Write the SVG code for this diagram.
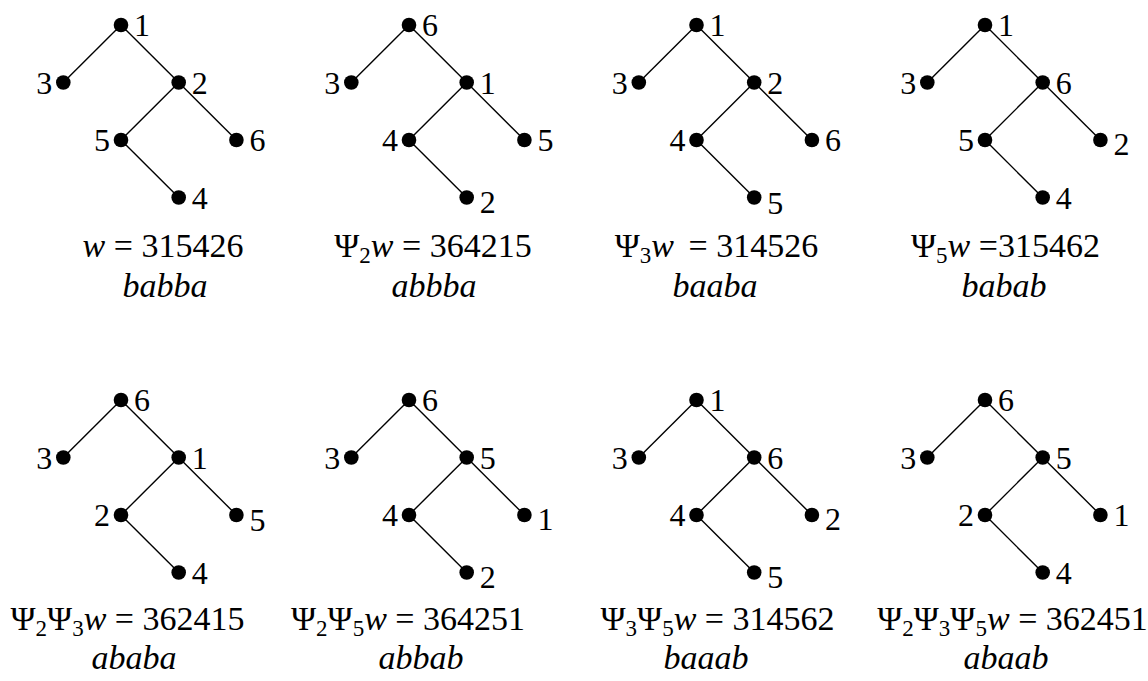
<svg xmlns="http://www.w3.org/2000/svg" width="1148" height="681" viewBox="0 0 1148 681">
<style>
.bg{fill:#fff}
.n circle{fill:#000}
.l{font-family:"Liberation Serif","Times New Roman",serif;font-size:32px;fill:#000}
.f{font-family:"Liberation Serif","Times New Roman",serif;font-size:34px;fill:#000}
.i{font-style:italic}
.s{font-size:23px}
</style>
<defs>
<g id="edges" stroke="#000" stroke-width="1.4" fill="none">
<line x1="0" y1="0" x2="-57.7" y2="57.5"/>
<line x1="0" y1="0" x2="57.7" y2="57.5"/>
<line x1="57.7" y1="57.5" x2="0" y2="115"/>
<line x1="57.7" y1="57.5" x2="115.4" y2="115"/>
<line x1="0" y1="115" x2="57.7" y2="172.5"/>
</g>
</defs>
<rect class="bg" x="0" y="0" width="1148" height="681"/>

<!-- Tree 1 -->
<g id="tree1" transform="translate(121,25)">
<g id="tree1-connectors" stroke="#000" stroke-width="1.4"><use href="#edges"/></g>
<g id="t1-n1" class="n"><circle cx="0" cy="0" r="7.3"/><text class="l" x="13" y="11">1</text></g>
<g id="t1-n3" class="n"><circle cx="-57.7" cy="57.5" r="7.3"/><text class="l" x="-68.7" y="68.5" text-anchor="end">3</text></g>
<g id="t1-n2" class="n"><circle cx="57.7" cy="57.5" r="7.3"/><text class="l" x="70.7" y="68.5">2</text></g>
<g id="t1-n5" class="n"><circle cx="0" cy="115" r="7.3"/><text class="l" x="-11" y="126" text-anchor="end">5</text></g>
<g id="t1-n6" class="n"><circle cx="115.4" cy="115" r="7.3"/><text class="l" x="128.4" y="126">6</text></g>
<g id="t1-n4" class="n"><circle cx="57.7" cy="172.5" r="7.3"/><text class="l" x="70.7" y="183.5">4</text></g>
</g>

<!-- Tree 2 -->
<g id="tree2" transform="translate(409,25)">
<g id="tree2-connectors" stroke="#000" stroke-width="1.4"><use href="#edges"/></g>
<g id="t2-n6" class="n"><circle cx="0" cy="0" r="7.3"/><text class="l" x="13" y="11">6</text></g>
<g id="t2-n3" class="n"><circle cx="-57.7" cy="57.5" r="7.3"/><text class="l" x="-68.7" y="68.5" text-anchor="end">3</text></g>
<g id="t2-n1" class="n"><circle cx="57.7" cy="57.5" r="7.3"/><text class="l" x="70.7" y="68.5">1</text></g>
<g id="t2-n4" class="n"><circle cx="0" cy="115" r="7.3"/><text class="l" x="-11" y="126" text-anchor="end">4</text></g>
<g id="t2-n5" class="n"><circle cx="115.4" cy="115" r="7.3"/><text class="l" x="128.4" y="126">5</text></g>
<g id="t2-n2" class="n"><circle cx="57.7" cy="172.5" r="7.3"/><text class="l" x="70.7" y="187.5">2</text></g>
</g>

<!-- Tree 3 -->
<g id="tree3" transform="translate(696.5,25)">
<g id="tree3-connectors" stroke="#000" stroke-width="1.4"><use href="#edges"/></g>
<g id="t3-n1" class="n"><circle cx="0" cy="0" r="7.3"/><text class="l" x="13" y="11">1</text></g>
<g id="t3-n3" class="n"><circle cx="-57.7" cy="57.5" r="7.3"/><text class="l" x="-68.7" y="68.5" text-anchor="end">3</text></g>
<g id="t3-n2" class="n"><circle cx="57.7" cy="57.5" r="7.3"/><text class="l" x="70.7" y="68.5">2</text></g>
<g id="t3-n4" class="n"><circle cx="0" cy="115" r="7.3"/><text class="l" x="-11" y="126" text-anchor="end">4</text></g>
<g id="t3-n6" class="n"><circle cx="115.4" cy="115" r="7.3"/><text class="l" x="128.4" y="126">6</text></g>
<g id="t3-n5" class="n"><circle cx="57.7" cy="172.5" r="7.3"/><text class="l" x="70.7" y="188.5">5</text></g>
</g>

<!-- Tree 4 -->
<g id="tree4" transform="translate(985,25)">
<g id="tree4-connectors" stroke="#000" stroke-width="1.4"><use href="#edges"/></g>
<g id="t4-n1" class="n"><circle cx="0" cy="0" r="7.3"/><text class="l" x="13" y="11">1</text></g>
<g id="t4-n3" class="n"><circle cx="-57.7" cy="57.5" r="7.3"/><text class="l" x="-68.7" y="68.5" text-anchor="end">3</text></g>
<g id="t4-n6" class="n"><circle cx="57.7" cy="57.5" r="7.3"/><text class="l" x="70.7" y="68.5">6</text></g>
<g id="t4-n5" class="n"><circle cx="0" cy="115" r="7.3"/><text class="l" x="-11" y="126" text-anchor="end">5</text></g>
<g id="t4-n2" class="n"><circle cx="115.4" cy="115" r="7.3"/><text class="l" x="128.4" y="130">2</text></g>
<g id="t4-n4" class="n"><circle cx="57.7" cy="172.5" r="7.3"/><text class="l" x="70.7" y="183.5">4</text></g>
</g>

<!-- Tree 5 -->
<g id="tree5" transform="translate(121,400)">
<g id="tree5-connectors" stroke="#000" stroke-width="1.4"><use href="#edges"/></g>
<g id="t5-n6" class="n"><circle cx="0" cy="0" r="7.3"/><text class="l" x="13" y="11">6</text></g>
<g id="t5-n3" class="n"><circle cx="-57.7" cy="57.5" r="7.3"/><text class="l" x="-68.7" y="68.5" text-anchor="end">3</text></g>
<g id="t5-n1" class="n"><circle cx="57.7" cy="57.5" r="7.3"/><text class="l" x="70.7" y="68.5">1</text></g>
<g id="t5-n2" class="n"><circle cx="0" cy="115" r="7.3"/><text class="l" x="-11" y="126" text-anchor="end">2</text></g>
<g id="t5-n5" class="n"><circle cx="115.4" cy="115" r="7.3"/><text class="l" x="128.4" y="130.5">5</text></g>
<g id="t5-n4" class="n"><circle cx="57.7" cy="172.5" r="7.3"/><text class="l" x="70.7" y="183.5">4</text></g>
</g>

<!-- Tree 6 -->
<g id="tree6" transform="translate(409,400)">
<g id="tree6-connectors" stroke="#000" stroke-width="1.4"><use href="#edges"/></g>
<g id="t6-n6" class="n"><circle cx="0" cy="0" r="7.3"/><text class="l" x="13" y="11">6</text></g>
<g id="t6-n3" class="n"><circle cx="-57.7" cy="57.5" r="7.3"/><text class="l" x="-68.7" y="68.5" text-anchor="end">3</text></g>
<g id="t6-n5" class="n"><circle cx="57.7" cy="57.5" r="7.3"/><text class="l" x="70.7" y="68.5">5</text></g>
<g id="t6-n4" class="n"><circle cx="0" cy="115" r="7.3"/><text class="l" x="-11" y="126" text-anchor="end">4</text></g>
<g id="t6-n1" class="n"><circle cx="115.4" cy="115" r="7.3"/><text class="l" x="128.4" y="130">1</text></g>
<g id="t6-n2" class="n"><circle cx="57.7" cy="172.5" r="7.3"/><text class="l" x="70.7" y="187.5">2</text></g>
</g>

<!-- Tree 7 -->
<g id="tree7" transform="translate(696.5,400)">
<g id="tree7-connectors" stroke="#000" stroke-width="1.4"><use href="#edges"/></g>
<g id="t7-n1" class="n"><circle cx="0" cy="0" r="7.3"/><text class="l" x="13" y="11">1</text></g>
<g id="t7-n3" class="n"><circle cx="-57.7" cy="57.5" r="7.3"/><text class="l" x="-68.7" y="68.5" text-anchor="end">3</text></g>
<g id="t7-n6" class="n"><circle cx="57.7" cy="57.5" r="7.3"/><text class="l" x="70.7" y="68.5">6</text></g>
<g id="t7-n4" class="n"><circle cx="0" cy="115" r="7.3"/><text class="l" x="-11" y="126" text-anchor="end">4</text></g>
<g id="t7-n2" class="n"><circle cx="115.4" cy="115" r="7.3"/><text class="l" x="128.4" y="129.5">2</text></g>
<g id="t7-n5" class="n"><circle cx="57.7" cy="172.5" r="7.3"/><text class="l" x="70.7" y="187.5">5</text></g>
</g>

<!-- Tree 8 -->
<g id="tree8" transform="translate(985,400)">
<g id="tree8-connectors" stroke="#000" stroke-width="1.4"><use href="#edges"/></g>
<g id="t8-n6" class="n"><circle cx="0" cy="0" r="7.3"/><text class="l" x="13" y="11">6</text></g>
<g id="t8-n3" class="n"><circle cx="-57.7" cy="57.5" r="7.3"/><text class="l" x="-68.7" y="68.5" text-anchor="end">3</text></g>
<g id="t8-n5" class="n"><circle cx="57.7" cy="57.5" r="7.3"/><text class="l" x="70.7" y="68.5">5</text></g>
<g id="t8-n2" class="n"><circle cx="0" cy="115" r="7.3"/><text class="l" x="-11" y="126" text-anchor="end">2</text></g>
<g id="t8-n1" class="n"><circle cx="115.4" cy="115" r="7.3"/><text class="l" x="128.4" y="126">1</text></g>
<g id="t8-n4" class="n"><circle cx="57.7" cy="172.5" r="7.3"/><text class="l" x="70.7" y="183.5">4</text></g>
</g>

<!-- Captions -->
<g id="captions">
<text class="f" x="163" y="257" text-anchor="middle"><tspan class="i">w</tspan> = 315426</text>
<text class="f i" x="165" y="297" text-anchor="middle">babba</text>

<text class="f" x="433" y="257" text-anchor="middle">Ψ<tspan class="s" dy="6">2</tspan><tspan class="i" dy="-6">w</tspan> = 364215</text>
<text class="f i" x="434" y="297" text-anchor="middle">abbba</text>

<text class="f" x="716.5" y="257" text-anchor="middle">Ψ<tspan class="s" dy="6">3</tspan><tspan class="i" dy="-6">w</tspan><tspan dx="6"> = 314526</tspan></text>
<text class="f i" x="715" y="297" text-anchor="middle">baaba</text>

<text class="f" x="1005.5" y="257" text-anchor="middle">Ψ<tspan class="s" dy="6">5</tspan><tspan class="i" dy="-6">w</tspan> =315462</text>
<text class="f i" x="1004" y="297" text-anchor="middle">babab</text>

<text class="f" x="127.5" y="630" text-anchor="middle">Ψ<tspan class="s" dy="6">2</tspan><tspan dy="-6">Ψ</tspan><tspan class="s" dy="6">3</tspan><tspan class="i" dy="-6">w</tspan> = 362415</text>
<text class="f i" x="134" y="669" text-anchor="middle">ababa</text>

<text class="f" x="408" y="630" text-anchor="middle">Ψ<tspan class="s" dy="6">2</tspan><tspan dy="-6">Ψ</tspan><tspan class="s" dy="6">5</tspan><tspan class="i" dy="-6">w</tspan> = 364251</text>
<text class="f i" x="421" y="669" text-anchor="middle">abbab</text>

<text class="f" x="717.5" y="630" text-anchor="middle">Ψ<tspan class="s" dy="6">3</tspan><tspan dy="-6">Ψ</tspan><tspan class="s" dy="6">5</tspan><tspan class="i" dy="-6">w</tspan> = 314562</text>
<text class="f i" x="706" y="669" text-anchor="middle">baaab</text>

<text class="f" x="1012.5" y="630" text-anchor="middle">Ψ<tspan class="s" dy="6">2</tspan><tspan dy="-6">Ψ</tspan><tspan class="s" dy="6">3</tspan><tspan dy="-6">Ψ</tspan><tspan class="s" dy="6">5</tspan><tspan class="i" dy="-6">w</tspan> = 362451</text>
<text class="f i" x="1006" y="669" text-anchor="middle">abaab</text>
</g>
</svg>
